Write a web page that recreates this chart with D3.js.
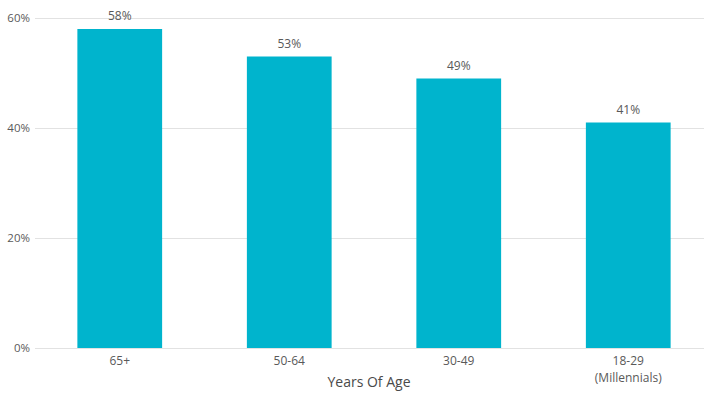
<!DOCTYPE html>
<html>
<head>
<meta charset="utf-8">
<script src="https://cdn.jsdelivr.net/npm/d3@7"></script>
<style>
  html, body { margin: 0; padding: 0; background: #fff; }
  svg { display: block; font-family: "Open Sans", sans-serif; }
</style>
</head>
<body>
<svg id="chart" width="704" height="394"></svg>
<script>
// Share by age group
const categories = ["65+", "50-64", "30-49", "18-29\n(Millennials)"];
const values = [58, 53, 49, 41];
const yTicks = [0, 20, 40, 60];
const xTitle = "Years Of Age";

const svg = d3.select("#chart");
const barColor = "#00b4cd";
const textColor = "#595959";

const x = d3.scaleBand()
  .domain(categories)
  .range([35, 713])
  .paddingInner(0.5)
  .paddingOuter(0.25);

const y = d3.scaleLinear()
  .domain([0, 60])
  .range([348, 18]);

// Gridlines and y labels
const yAxis = d3.axisLeft(y)
  .tickValues(yTicks)
  .tickSize(-(704 - 35))
  .tickPadding(5)
  .tickFormat(d => d + "%");

const gy = svg.append("g")
  .attr("transform", "translate(35,0)")
  .call(yAxis);
gy.select(".domain").remove();
gy.selectAll(".tick line").attr("stroke", "#e2e2e2").attr("stroke-width", 1);
gy.selectAll(".tick text")
  .attr("fill", textColor)
  .style("font-size", "11.5px")
  .style("font-family", "'Open Sans', sans-serif");

// Bars
svg.append("g")
  .selectAll("rect")
  .data(values)
  .join("rect")
  .attr("x", (d, i) => x(categories[i]))
  .attr("y", d => y(d))
  .attr("width", x.bandwidth())
  .attr("height", d => y(0) - y(d))
  .attr("fill", barColor);

// Value labels
svg.append("g")
  .selectAll("text")
  .data(values)
  .join("text")
  .attr("x", (d, i) => x(categories[i]) + x.bandwidth() / 2)
  .attr("y", d => y(d) - 9)
  .attr("text-anchor", "middle")
  .attr("fill", textColor)
  .style("font-size", "12px")
  .text(d => d + "%");

// Category labels, one text element per line
const lines = categories.flatMap(c =>
  c.split("\n").map((line, i) => ({ cat: c, line, i })));
svg.append("g")
  .selectAll("text")
  .data(lines)
  .join("text")
  .attr("x", d => x(d.cat) + x.bandwidth() / 2)
  .attr("y", d => 365 + d.i * 17)
  .attr("text-anchor", "middle")
  .attr("fill", textColor)
  .style("font-size", "12px")
  .text(d => d.line);

// Axis title
svg.append("text")
  .attr("x", 369)
  .attr("y", 387)
  .attr("text-anchor", "middle")
  .attr("fill", "#4a4a4a")
  .style("font-size", "14px")
  .text(xTitle);
</script>
</body>
</html>
